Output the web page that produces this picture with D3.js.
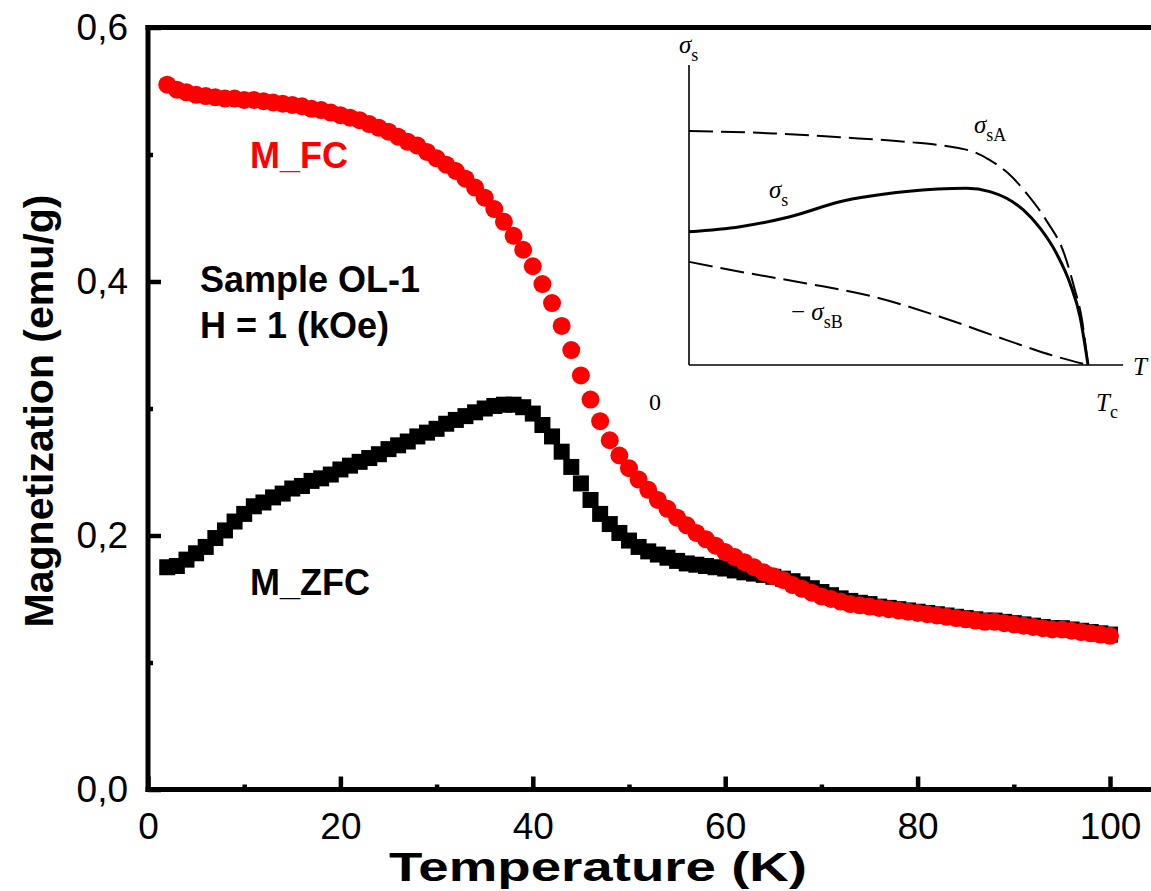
<!DOCTYPE html>
<html>
<head>
<meta charset="utf-8">
<script src="https://cdn.jsdelivr.net/npm/d3@7"></script>
<style>
body { margin: 0; background: #fff; }
svg { display: block; font-family: 'Liberation Sans', Arial, sans-serif; }
</style>
</head>
<body>
<svg></svg>
<script>
var width = 1151;
var height = 891;

// temperature points (K), shared by both curves
var temps = [2, 3, 4, 5, 6, 7, 8, 9, 10, 11, 12, 13, 14, 15, 16, 17, 18, 19, 20,
  21, 22, 23, 24, 25, 26, 27, 28, 29, 30, 31, 32, 33, 34, 35, 36, 37, 38, 39, 40,
  41, 42, 43, 44, 45, 46, 47, 48, 49, 50, 51, 52, 53, 54, 55, 56, 57, 58, 59, 60,
  61, 62, 63, 64, 65, 66, 67, 68, 69, 70, 71, 72, 73, 74, 75, 76, 77, 78, 79, 80,
  81, 82, 83, 84, 85, 86, 87, 88, 89, 90, 91, 92, 93, 94, 95, 96, 97, 98, 99, 100];

var mFC = [0.555, 0.551, 0.549, 0.547, 0.546, 0.545, 0.544, 0.544, 0.543, 0.543,
  0.542, 0.541, 0.540, 0.539, 0.538, 0.536, 0.535, 0.533, 0.531, 0.529,
  0.527, 0.524, 0.521, 0.518, 0.514, 0.510, 0.507, 0.502, 0.497, 0.492,
  0.487, 0.481, 0.474, 0.466, 0.457, 0.447, 0.436, 0.425, 0.412, 0.398,
  0.383, 0.365, 0.346, 0.326, 0.307, 0.290, 0.275, 0.263, 0.253, 0.244,
  0.236, 0.228, 0.221, 0.214, 0.208, 0.202, 0.197, 0.192, 0.187, 0.183,
  0.179, 0.175, 0.171, 0.168, 0.165, 0.161, 0.158, 0.155, 0.152, 0.150,
  0.148, 0.146, 0.145, 0.144, 0.143, 0.142, 0.141, 0.140, 0.139, 0.138,
  0.137, 0.136, 0.135, 0.134, 0.133, 0.132, 0.132, 0.131, 0.130, 0.129,
  0.128, 0.127, 0.126, 0.126, 0.125, 0.124, 0.123, 0.122, 0.121];

var mZFC = [0.175, 0.176, 0.181, 0.186, 0.191, 0.198, 0.204, 0.211, 0.217, 0.223,
  0.226, 0.230, 0.233, 0.237, 0.239, 0.243, 0.245, 0.248, 0.252, 0.255,
  0.258, 0.261, 0.264, 0.268, 0.271, 0.274, 0.278, 0.281, 0.284, 0.288,
  0.291, 0.294, 0.297, 0.300, 0.302, 0.303, 0.303, 0.301, 0.296, 0.287,
  0.278, 0.266, 0.254, 0.241, 0.228, 0.217, 0.209, 0.202, 0.196, 0.191,
  0.1875, 0.185, 0.1825, 0.180, 0.178, 0.177, 0.176, 0.175, 0.174, 0.1725,
  0.171, 0.170, 0.169, 0.1675, 0.166, 0.164, 0.1615, 0.1585, 0.1555, 0.153,
  0.1505, 0.1485, 0.147, 0.146, 0.144, 0.143, 0.142, 0.141, 0.140, 0.139,
  0.138, 0.137, 0.136, 0.135, 0.134, 0.133, 0.133, 0.132, 0.131, 0.130,
  0.129, 0.128, 0.127, 0.127, 0.126, 0.125, 0.124, 0.123, 0.122];

var xTicks = [0, 20, 40, 60, 80, 100];
var xMinor = [10, 30, 50, 70, 90];
var yTicks = [0, 0.2, 0.4, 0.6];
var yMinor = [0.1, 0.3, 0.5];

// inset sketch (T/Tc vs sigma, arbitrary units)
var insetAT = [0, 0.211, 0.378, 0.545, 0.671, 0.712, 0.754, 0.800, 0.846, 0.895, 0.940, 0.965, 0.985, 1.0];
var insetAV = [0.78, 0.772, 0.759, 0.744, 0.724, 0.711, 0.683, 0.639, 0.572, 0.483, 0.372, 0.261, 0.15, 0];
var insetST = [0, 0.128, 0.253, 0.378, 0.545, 0.696, 0.754, 0.796, 0.838, 0.880, 0.921, 0.955, 0.980, 1.0];
var insetSV = [0.444, 0.461, 0.494, 0.544, 0.578, 0.589, 0.578, 0.556, 0.517, 0.456, 0.372, 0.272, 0.161, 0];
var insetBT = [0, 0.128, 0.295, 0.462, 0.629, 0.796, 0.921, 1.0];
var insetBV = [0.344, 0.311, 0.272, 0.228, 0.161, 0.083, 0.028, 0];

var xScale = d3.scaleLinear().domain([0, 100]).range([148, 1110]);
var yScale = d3.scaleLinear().domain([0, 0.6]).range([789.5, 27.5]);

var svg = d3.select('svg')
  .attr('width', width)
  .attr('height', height);

var fmt = d => d3.format('.1f')(d).replace('.', ',');

// minor ticks
svg.append('g')
  .attr('transform', 'translate(0,' + yScale(0) + ')')
  .call(d3.axisBottom(xScale).tickValues(xMinor).tickSizeInner(-5).tickSizeOuter(0).tickFormat(''))
  .call(g => g.select('.domain').remove());
svg.append('g')
  .attr('transform', 'translate(' + xScale(0) + ',0)')
  .call(d3.axisLeft(yScale).tickValues(yMinor).tickSizeInner(-5).tickSizeOuter(0).tickFormat(''))
  .call(g => g.select('.domain').remove());

// major ticks
svg.append('g')
  .attr('transform', 'translate(0,' + yScale(0) + ')')
  .call(d3.axisBottom(xScale).tickValues(xTicks).tickSizeInner(-13).tickSizeOuter(0).tickPadding(23))
  .call(g => g.select('.domain').remove());
svg.append('g')
  .attr('transform', 'translate(' + xScale(0) + ',0)')
  .call(d3.axisLeft(yScale).tickValues(yTicks).tickSizeInner(-13).tickSizeOuter(0).tickPadding(20).tickFormat(fmt))
  .call(g => g.select('.domain').remove());

svg.selectAll('.tick line')
  .attr('stroke', '#000')
  .attr('stroke-width', 4.5);
svg.selectAll('.tick text')
  .attr('fill', '#000')
  .style('font-family', "'Liberation Sans', Arial, sans-serif")
  .style('font-size', '37px');

// frame lines
svg.append('line')
  .attr('x1', xScale(0)).attr('x2', xScale(0))
  .attr('y1', yScale(0.6) - 2.5).attr('y2', yScale(0) + 2.5)
  .attr('stroke', '#000').attr('stroke-width', 5);
svg.append('line')
  .attr('x1', xScale(0) - 2.5).attr('x2', width)
  .attr('y1', yScale(0)).attr('y2', yScale(0))
  .attr('stroke', '#000').attr('stroke-width', 5);
svg.append('line')
  .attr('x1', xScale(0) - 2.5).attr('x2', width)
  .attr('y1', yScale(0.6)).attr('y2', yScale(0.6))
  .attr('stroke', '#000').attr('stroke-width', 5);

// inset
var ix = d3.scaleLinear().domain([0, 1]).range([689, 1088]);
var iy = d3.scaleLinear().domain([0, 1]).range([365, 65]);
var inset = svg.append('g')
  .style('font-family', "'Liberation Serif', 'Times New Roman', serif");

inset.append('line')
  .attr('x1', ix(0)).attr('x2', ix(0)).attr('y1', iy(1)).attr('y2', iy(0))
  .attr('stroke', '#000').attr('stroke-width', 1.6);
inset.append('line')
  .attr('x1', ix(0)).attr('x2', ix(1.088)).attr('y1', iy(0)).attr('y2', iy(0))
  .attr('stroke', '#000').attr('stroke-width', 1.6);

var insetLine = d3.line()
  .x(d => ix(d[0]))
  .y(d => iy(d[1]))
  .curve(d3.curveMonotoneX);

inset.append('path')
  .attr('d', insetLine(d3.zip(insetAT, insetAV)))
  .attr('fill', 'none').attr('stroke', '#000').attr('stroke-width', 2)
  .attr('stroke-dasharray', '24,8');
inset.append('path')
  .attr('d', insetLine(d3.zip(insetBT, insetBV)))
  .attr('fill', 'none').attr('stroke', '#000').attr('stroke-width', 2)
  .attr('stroke-dasharray', '24,8');
inset.append('path')
  .attr('d', insetLine(d3.zip(insetST, insetSV)))
  .attr('fill', 'none').attr('stroke', '#000').attr('stroke-width', 3);

function sigmaLabel(x, y, sub, prefix) {
  var t = inset.append('text')
    .attr('x', x).attr('y', y)
    .style('font-size', '25px');
  if (prefix) t.append('tspan').text(prefix);
  t.append('tspan').style('font-style', 'italic').text('σ');
  t.append('tspan').attr('dy', 8).style('font-size', '18px').text(sub);
}
sigmaLabel(679, 53, 's');
sigmaLabel(974, 133, 'sA');
sigmaLabel(769, 198, 's');
sigmaLabel(791, 320, 'sB', '− ');

inset.append('text')
  .attr('x', 1133).attr('y', 375)
  .style('font-size', '25px').style('font-style', 'italic')
  .text('T');
inset.append('text')
  .attr('x', 649).attr('y', 410)
  .style('font-size', '24px')
  .text('0');
var tc = inset.append('text')
  .attr('x', 1096).attr('y', 411)
  .style('font-size', '25px');
tc.append('tspan').style('font-style', 'italic').text('T');
tc.append('tspan').attr('dy', 7).style('font-size', '18px').text('c');

// data: ZFC squares first, FC circles on top
svg.append('g')
  .selectAll('rect')
  .data(d3.zip(temps, mZFC))
  .enter()
  .append('rect')
  .attr('x', d => xScale(d[0]) - 8)
  .attr('y', d => yScale(d[1]) - 8)
  .attr('width', 16)
  .attr('height', 16)
  .attr('fill', '#000');

svg.append('g')
  .selectAll('circle')
  .data(d3.zip(temps, mFC))
  .enter()
  .append('circle')
  .attr('cx', d => xScale(d[0]))
  .attr('cy', d => yScale(d[1]))
  .attr('r', 9)
  .attr('fill', '#ff0000');

// labels
svg.append('text')
  .attr('x', 250).attr('y', 168)
  .style('font-size', '36px').style('font-weight', 'bold')
  .attr('fill', '#ff0000')
  .text('M_FC');
svg.append('text')
  .attr('x', 250).attr('y', 595)
  .style('font-size', '36px').style('font-weight', 'bold')
  .text('M_ZFC');
svg.append('text')
  .attr('x', 200).attr('y', 292)
  .style('font-size', '36px').style('font-weight', 'bold')
  .text('Sample OL-1');
svg.append('text')
  .attr('x', 200).attr('y', 338)
  .style('font-size', '36px').style('font-weight', 'bold')
  .text('H = 1 (kOe)');

// axis titles
svg.append('text')
  .attr('x', 598).attr('y', 881)
  .style('text-anchor', 'middle')
  .style('font-size', '40px').style('font-weight', 'bold')
  .attr('textLength', 418)
  .attr('lengthAdjust', 'spacingAndGlyphs')
  .text('Temperature (K)');
svg.append('text')
  .attr('transform', 'translate(53,411) rotate(-90)')
  .style('text-anchor', 'middle')
  .style('font-size', '41px').style('font-weight', 'bold')
  .text('Magnetization (emu/g)');
</script>
</body>
</html>
